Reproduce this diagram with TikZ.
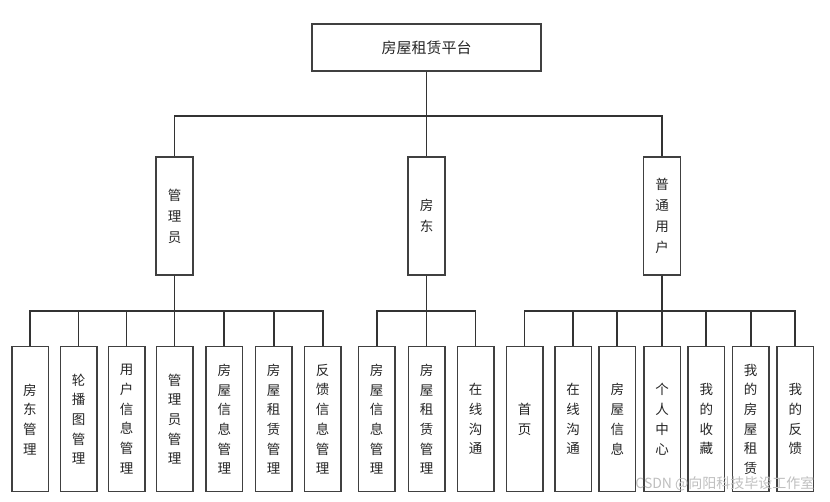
\documentclass[tikz,border=0pt]{standalone}
\usepackage{fontspec}
\setmainfont{Noto Sans CJK SC}
\begin{document}
\begin{tikzpicture}[x=1pt,y=-1pt,
  box/.style={draw=black!75,line width=1.5pt,inner sep=0pt,text=black!85,align=center},
  topbox/.style={box,minimum width=229pt,minimum height=47pt,font=\fontsize{15}{18}\selectfont},
  midbox/.style={box,minimum width=37pt,minimum height=118pt,font=\fontsize{13.5}{21}\selectfont},
  leafbox/.style={box,minimum width=36.5pt,minimum height=145pt,font=\fontsize{13.5}{19.7}\selectfont},
  conn/.style={draw=black!80,line width=1.7pt}]
\useasboundingbox (0,0) rectangle (830,501);
\fill[white] (0,0) rectangle (830,501);

\node[topbox] (top) at (426.5,47.5) {房屋租赁平台};

\node[midbox] (adm) at (174.5,216) {管\\理\\员};
\node[midbox] (land) at (426.5,216) {房\\东};
\node[midbox] (user) at (662,216) {普\\通\\用\\户};

\def\ly{419.2}
\node[leafbox] (a1) at (30,\ly) {房\\东\\管\\理};
\node[leafbox] (a2) at (78.5,\ly) {轮\\播\\图\\管\\理};
\node[leafbox] (a3) at (126.5,\ly) {用\\户\\信\\息\\管\\理};
\node[leafbox] (a4) at (174.5,\ly) {管\\理\\员\\管\\理};
\node[leafbox] (a5) at (224.3,\ly) {房\\屋\\信\\息\\管\\理};
\node[leafbox] (a6) at (273.7,\ly) {房\\屋\\租\\赁\\管\\理};
\node[leafbox] (a7) at (322.7,\ly) {反\\馈\\信\\息\\管\\理};

\node[leafbox] (b1) at (376.7,\ly) {房\\屋\\信\\息\\管\\理};
\node[leafbox] (b2) at (426.5,\ly) {房\\屋\\租\\赁\\管\\理};
\node[leafbox] (b3) at (475.5,\ly) {在\\线\\沟\\通};

\node[leafbox] (c1) at (524.5,\ly) {首\\页};
\node[leafbox] (c2) at (573,\ly) {在\\线\\沟\\通};
\node[leafbox] (c3) at (617.3,\ly) {房\\屋\\信\\息};
\node[leafbox] (c4) at (662,\ly) {个\\人\\中\\心};
\node[leafbox] (c5) at (706.3,\ly) {我\\的\\收\\藏};
\node[leafbox] (c6) at (750.7,\ly) {我\\的\\房\\屋\\租\\赁};
\node[leafbox] (c7) at (795.3,\ly) {我\\的\\反\\馈};

% top level connectors
\foreach \c in {adm,land,user}
  \draw[conn] (top.south) -- ++(0,44) -| (\c.north);

% level 2 connectors
\foreach \c in {a1,a2,a3,a4,a5,a6,a7}
  \draw[conn] (adm.south) -- ++(0,35.5) -| (\c.north);
\foreach \c in {b1,b2,b3}
  \draw[conn] (land.south) -- ++(0,35.5) -| (\c.north);
\foreach \c in {c1,c2,c3,c4,c5,c6,c7}
  \draw[conn] (user.south) -- ++(0,35.5) -| (\c.north);

\node[text=black!25,font=\fontsize{14}{16}\selectfont,anchor=east] (wm) at (818,484) {CSDN @向阳科技毕设工作室};
\end{tikzpicture}
\end{document}
